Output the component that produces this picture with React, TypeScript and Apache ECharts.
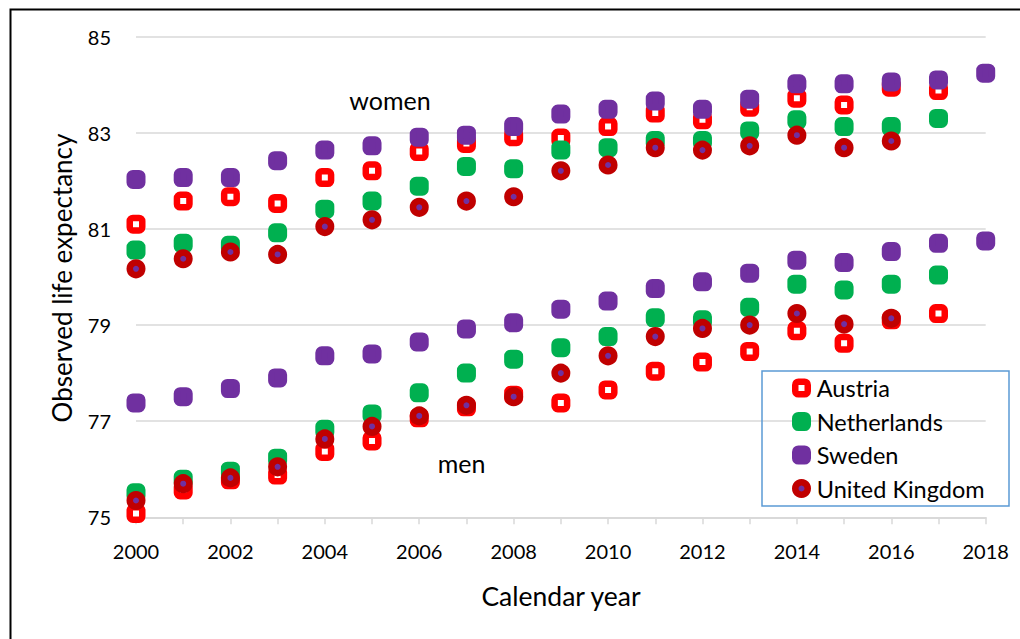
import React, { useEffect, useRef } from "react";
import * as echarts from "echarts";

const years = [2000, 2001, 2002, 2003, 2004, 2005, 2006, 2007, 2008, 2009, 2010, 2011, 2012, 2013, 2014, 2015, 2016, 2017, 2018];

// Women
const austriaWomen = [81.10, 81.58, 81.67, 81.53, 82.07, 82.21, 82.61, 82.78, 82.92, 82.89, 83.13, 83.41, 83.27, 83.53, 83.72, 83.58, 83.95, 83.88, null];
const netherlandsWomen = [80.56, 80.70, 80.66, 80.92, 81.41, 81.58, 81.89, 82.30, 82.25, 82.64, 82.69, 82.84, 82.84, 83.04, 83.27, 83.13, 83.13, 83.30, null];
const swedenWomen = [82.03, 82.07, 82.07, 82.42, 82.64, 82.73, 82.91, 82.95, 83.13, 83.39, 83.49, 83.66, 83.49, 83.70, 84.02, 84.02, 84.06, 84.10, 84.24];
const ukWomen = [80.17, 80.38, 80.52, 80.47, 81.05, 81.19, 81.45, 81.58, 81.67, 82.21, 82.33, 82.69, 82.64, 82.73, 82.95, 82.69, 82.83, null, null];

// Men
const austriaMen = [75.08, 75.57, 75.78, 75.88, 76.37, 76.59, 77.07, 77.30, 77.54, 77.38, 77.65, 78.04, 78.23, 78.45, 78.88, 78.62, 79.11, 79.24, null];
const netherlandsMen = [75.51, 75.79, 75.96, 76.23, 76.83, 77.15, 77.59, 78.00, 78.29, 78.53, 78.76, 79.15, 79.11, 79.37, 79.85, 79.73, 79.85, 80.04, null];
const swedenMen = [77.38, 77.51, 77.68, 77.90, 78.36, 78.40, 78.65, 78.92, 79.05, 79.33, 79.50, 79.76, 79.90, 80.08, 80.35, 80.30, 80.53, 80.70, 80.75];
const ukMen = [75.35, 75.70, 75.82, 76.05, 76.63, 76.89, 77.11, 77.33, 77.51, 78.00, 78.36, 78.76, 78.93, 79.00, 79.24, 79.02, 79.14, null, null];

const yTicks = [75, 77, 79, 81, 83, 85];
const xLabelYears = [2000, 2002, 2004, 2006, 2008, 2010, 2012, 2014, 2016, 2018];

const FONT = "Lato, 'Open Sans', sans-serif";

function pairs(a: (number | null)[], b: (number | null)[]) {
  const out: [number, number][] = [];
  years.forEach((y, i) => {
    if (a[i] != null) out.push([y, a[i] as number]);
  });
  years.forEach((y, i) => {
    if (b[i] != null) out.push([y, b[i] as number]);
  });
  return out;
}

const countries = [
  { name: "Austria", symbol: "roundRect", color: "#FFFFFF", border: "#FF0000", women: austriaWomen, men: austriaMen },
  { name: "Netherlands", symbol: "roundRect", color: "#00B050", border: "#00B050", women: netherlandsWomen, men: netherlandsMen },
  { name: "Sweden", symbol: "roundRect", color: "#7030A0", border: "#7030A0", women: swedenWomen, men: swedenMen },
  { name: "United Kingdom", symbol: "circle", color: "#7030A0", border: "#C00000", women: ukWomen, men: ukMen },
];

export default function App() {
  const ref = useRef<HTMLDivElement>(null);
  useEffect(() => {
    if (!ref.current) return;
    const chart = echarts.init(ref.current, null, { renderer: "svg" });
    chart.setOption({
      animation: false,
      backgroundColor: "#FFFFFF",
      grid: { left: 136, right: 34.3, top: 36.7, bottom: 121.7, containLabel: false },
      xAxis: {
        type: "value",
        min: 2000,
        max: 2018,
        interval: 1,
        axisLine: { show: true, lineStyle: { color: "#D9D9D9", width: 2 } },
        axisTick: { show: true, length: 7, lineStyle: { color: "#D9D9D9", width: 1.5 } },
        splitLine: { show: false },
        axisLabel: {
          fontFamily: FONT,
          fontSize: 20,
          color: "#000",
          margin: 24,
          formatter: (v: number) => (xLabelYears.includes(v) ? String(v) : ""),
        },
      },
      yAxis: {
        type: "value",
        min: yTicks[0],
        max: yTicks[yTicks.length - 1],
        interval: 2,
        axisLine: { show: false },
        axisTick: { show: false },
        splitLine: { show: true, lineStyle: { color: "#D9D9D9", width: 1.5 } },
        axisLabel: { fontFamily: FONT, fontSize: 20, color: "#000", margin: 25 },
      },
      legend: {
        show: true,
        orient: "vertical",
        left: 792,
        top: 376,
        itemWidth: 12.5,
        itemHeight: 12.5,
        itemGap: 9.5,
        padding: 0,
        textStyle: { fontFamily: FONT, fontSize: 23.5, lineHeight: 24, color: "#000", padding: [0, 0, 0, 4] },
        data: countries.map((c) => ({
          name: c.name,
          icon: c.symbol,
          itemStyle: { color: c.color, borderColor: c.border, borderWidth: 6.5 },
        })),
      },
      graphic: [
        {
          type: "rect",
          left: 8,
          top: 7,
          shape: { x: 0, y: 0, width: 1100, height: 700 },
          style: { fill: "none", stroke: "#000", lineWidth: 2 },
          silent: true,
        },
        {
          type: "rect",
          shape: { x: 762, y: 371, width: 247, height: 135 },
          style: { fill: "none", stroke: "#5B9BD5", lineWidth: 1.5 },
          silent: true,
          z: 10,
        },
        {
          type: "text",
          x: 390,
          y: 100,
          style: { text: "women", fontFamily: FONT, fontSize: 25, fill: "#000", align: "center", verticalAlign: "middle" },
        },
        {
          type: "text",
          x: 461.5,
          y: 463,
          style: { text: "men", fontFamily: FONT, fontSize: 25, fill: "#000", align: "center", verticalAlign: "middle" },
        },
        {
          type: "text",
          x: 561,
          y: 596,
          style: { text: "Calendar year", fontFamily: FONT, fontSize: 26.5, fill: "#000", align: "center", verticalAlign: "middle" },
        },
        {
          type: "text",
          x: 62,
          y: 278,
          rotation: Math.PI / 2,
          style: { text: "Observed life expectancy", fontFamily: FONT, fontSize: 26, fill: "#000", align: "center", verticalAlign: "middle" },
        },
      ],
      series: countries.map((c) => ({
        name: c.name,
        type: "scatter",
        symbol: c.symbol,
        symbolSize: 12.5,
        itemStyle: { color: c.color, borderColor: c.border, borderWidth: 6.5, opacity: 1 },
        data: pairs(c.women, c.men),
      })),
    });
    return () => chart.dispose();
  }, []);
  return (
    <div
      ref={ref}
      style={{ position: "fixed", left: 0, top: 0, width: 1020, height: 639 }}
    />
  );
}
